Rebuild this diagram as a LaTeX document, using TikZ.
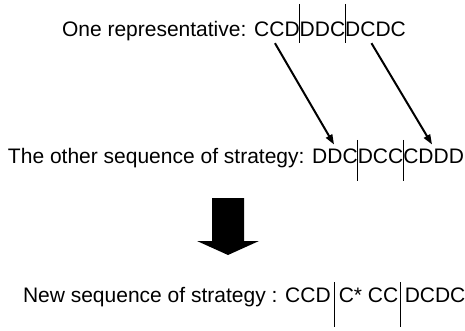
\documentclass[tikz,border=0pt]{standalone}
\usepackage{fontspec}
\setmainfont{Liberation Sans}
\usetikzlibrary{arrows.meta}
\newcommand{\seqfont}{\fontsize{21}{25}\selectfont}
\begin{document}
\begin{tikzpicture}[inner sep=0pt,outer sep=0pt,x=1pt,y=-1pt,
seq/.style={anchor=base west,font=\seqfont},
bar/.style={line width=1pt},
arr/.style={-{Triangle[length=10pt,width=7pt]},line width=2pt}]
\useasboundingbox (0,0) rectangle (465,331);
\draw (62,37) node[seq] (rep) {One representative: C};
\draw (rep.base east) node[seq] (rc) {C};
\draw (rc.base east) node[seq] (rd) {D};
\draw (rd.base east) node[seq] (rm) {DDC};
\draw (rm.base east) node[seq] (rd2) {D};
\draw (rd2.base east) node[seq] (rc2) {C};
\draw (rc2.base east) node[seq] (rt) {DC};
\draw[bar] ([yshift=33pt]rd.base east) -- ([yshift=-6pt]rd.base east);
\draw[bar] ([yshift=33pt]rm.base east) -- ([yshift=-6pt]rm.base east);
\draw (8,164) node[seq] (oth) {The other sequence of strategy: D};
\draw (oth.base east) node[seq] (od) {D};
\draw (od.base east) node[seq] (oc) {C};
\draw (oc.base east) node[seq] (om) {DCC};
\draw (om.base east) node[seq] (oc2) {C};
\draw (oc2.base east) node[seq] (od2) {D};
\draw (od2.base east) node[seq] (ot) {DD};
\draw[bar] ([yshift=24pt]oc.base east) -- ([yshift=-17pt]oc.base east);
\draw[bar] ([yshift=24pt]om.base east) -- ([yshift=-17pt]om.base east);
\draw[arr] ([xshift=-2pt,yshift=-6pt]rc.south) -- ([xshift=-1pt,yshift=5pt]od.north);
\draw[arr] ([xshift=3.5pt,yshift=-6pt]rc2.south) -- ([xshift=6pt,yshift=5pt]od2.north);
\fill (212,198) -- (244,198) -- (244,241) -- (259,241) -- (228,255) -- (197,241) -- (212,241) -- cycle;
\draw (23,302) node[seq] (new) {New sequence of strategy : CCD};
\draw ([xshift=8pt]new.base east) node[seq] (nm) {C* CC};
\draw ([xshift=6.5pt]nm.base east) node[seq] (nt) {DCDC};
\draw[bar] ([xshift=4pt,yshift=20pt]new.base east) -- ([xshift=4pt,yshift=-25pt]new.base east);
\draw[bar] ([xshift=2.5pt,yshift=20pt]nm.base east) -- ([xshift=2.5pt,yshift=-25pt]nm.base east);
\end{tikzpicture}
\end{document}
